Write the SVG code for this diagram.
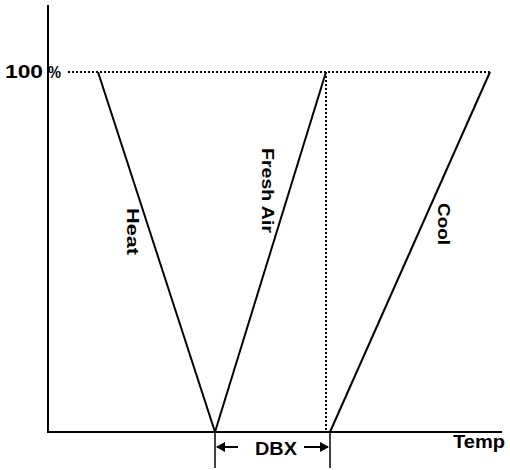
<svg xmlns="http://www.w3.org/2000/svg" width="510" height="470" viewBox="0 0 510 470">
<style>
.ln{stroke:#000;stroke-width:2;fill:none}
.th{stroke:#000;stroke-width:1.5;fill:none}
.dot{stroke:#000;stroke-width:2;stroke-dasharray:2,2;fill:none}
.t{font-family:"Liberation Sans",Arial,sans-serif;font-weight:bold;fill:#000}
</style>
<defs>
<marker id="ah" markerWidth="9" markerHeight="10" refX="8" refY="5" orient="auto" markerUnits="userSpaceOnUse">
<path d="M0,0 L9,5 L0,10 Z" fill="#000"/>
</marker>
</defs>
<g id="axes">
<line class="ln" x1="48" y1="5" x2="48" y2="433"/>
<line class="ln" x1="47" y1="432" x2="502" y2="432"/>
</g>
<g id="connectors">
<line class="dot" x1="68" y1="72" x2="492" y2="72"/>
<line class="dot" x1="326" y1="72" x2="326" y2="432"/>
<line class="ln" x1="98" y1="72" x2="215" y2="432"/>
<line class="ln" x1="215" y1="432" x2="326" y2="72"/>
<line class="ln" x1="330" y1="432" x2="490" y2="72"/>
<line class="th" x1="215" y1="432" x2="215" y2="468"/>
<line class="th" x1="330" y1="432" x2="330" y2="468"/>
<line class="ln" x1="238" y1="447" x2="217" y2="447" marker-end="url(#ah)"/>
<line class="ln" x1="304" y1="447" x2="328" y2="447" marker-end="url(#ah)"/>
</g>
<g id="label-100"><text class="t" x="5" y="78" style="font-size:19px" textLength="38" lengthAdjust="spacingAndGlyphs">100</text><text class="t" x="48" y="78" style="font-size:17px" textLength="13" lengthAdjust="spacingAndGlyphs">%</text></g>
<g id="label-heat"><text class="t" transform="translate(127,208) rotate(90)" style="font-size:17px" textLength="47" lengthAdjust="spacingAndGlyphs">Heat</text></g>
<g id="label-fresh"><text class="t" transform="translate(262,148) rotate(90)" style="font-size:17px" textLength="85" lengthAdjust="spacingAndGlyphs">Fresh Air</text></g>
<g id="label-cool"><text class="t" transform="translate(438,203) rotate(90)" style="font-size:17px" textLength="42" lengthAdjust="spacingAndGlyphs">Cool</text></g>
<g id="label-dbx"><text class="t" x="255" y="455" style="font-size:19px" textLength="42" lengthAdjust="spacingAndGlyphs">DBX</text></g>
<g id="label-temp"><text class="t" x="453" y="448" style="font-size:18px" textLength="52" lengthAdjust="spacingAndGlyphs">Temp</text></g>
</svg>
